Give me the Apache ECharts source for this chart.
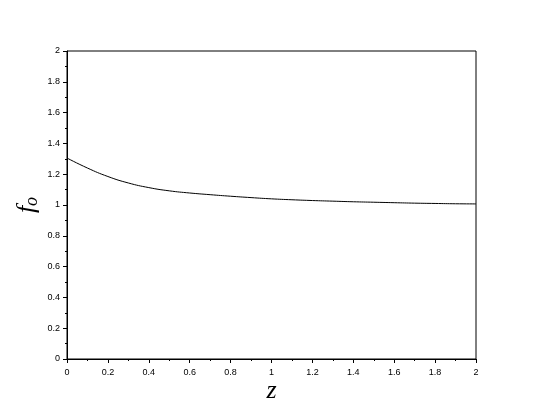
<!DOCTYPE html>
<html>
<head>
<meta charset="utf-8">
<script src="https://cdn.jsdelivr.net/npm/echarts@6/dist/echarts.min.js"></script>
<style>
  html, body { margin: 0; padding: 0; background: #fff; }
  #chart { width: 545px; height: 411px; }
</style>
</head>
<body>
<div id="chart"></div>
<script>
// values
const zValues = [0, 0.1, 0.2, 0.3, 0.4, 0.5, 0.6, 0.7, 0.8, 0.9, 1.0, 1.1, 1.2, 1.3, 1.4, 1.5, 1.6, 1.7, 1.8, 1.9, 2.0];
const fValues = [1.305, 1.24, 1.185, 1.143, 1.113, 1.092, 1.078, 1.067, 1.057, 1.048, 1.04, 1.034, 1.029, 1.025, 1.021, 1.018, 1.015, 1.012, 1.01, 1.008, 1.007];

const seriesData = zValues.map((z, i) => [z, fValues[i]]);

const myChart = echarts.init(document.getElementById('chart'));

const tickFont = {
    color: '#000',
    fontSize: 9,
    fontFamily: 'Liberation Sans'
};

const option = {
    animation: false,
    grid: {
        left: 67,
        right: 69,
        top: 51,
        bottom: 52,
        outerBoundsMode: 'none',
        show: true,
        borderColor: '#000',
        borderWidth: 1,
        backgroundColor: 'transparent'
    },
    xAxis: {
        type: 'value',
        min: 0,
        max: 2,
        interval: 0.2,
        name: 'z',
        nameLocation: 'middle',
        nameMoveOverlap: false,
        nameGap: 19,
        nameTextStyle: {
            color: '#000',
            fontSize: 26,
            fontStyle: 'italic',
            fontFamily: 'Liberation Serif'
        },
        axisLine: { show: true, lineStyle: { color: '#000', width: 1 } },
        axisTick: { show: true, length: 4, lineStyle: { color: '#000' } },
        minorTick: { show: true, splitNumber: 2, length: 2, lineStyle: { color: '#000' } },
        splitLine: { show: false },
        axisLabel: Object.assign({ margin: 9 }, tickFont)
    },
    yAxis: {
        type: 'value',
        min: 0,
        max: 2,
        interval: 0.2,
        name: '{f|f}{o|o}',
        nameLocation: 'middle',
        nameMoveOverlap: false,
        nameRotate: 90,
        nameGap: 26,
        nameTextStyle: {
            rich: {
                f: { fontSize: 26, fontStyle: 'italic', fontFamily: 'Liberation Serif', color: '#000' },
                o: { fontSize: 18, fontStyle: 'italic', fontFamily: 'Liberation Serif', color: '#000', verticalAlign: 'bottom', padding: [10, 0, 0, 0] }
            }
        },
        axisLine: { show: true, lineStyle: { color: '#000', width: 1 } },
        axisTick: { show: true, length: 4, lineStyle: { color: '#000' } },
        minorTick: { show: true, splitNumber: 2, length: 2, lineStyle: { color: '#000' } },
        splitLine: { show: false },
        axisLabel: Object.assign({ margin: 7 }, tickFont)
    },
    series: [
        {
            type: 'line',
            smooth: true,
            showSymbol: false,
            data: seriesData,
            lineStyle: { color: '#000', width: 1 }
        }
    ]
};

myChart.setOption(option);
</script>
</body>
</html>
